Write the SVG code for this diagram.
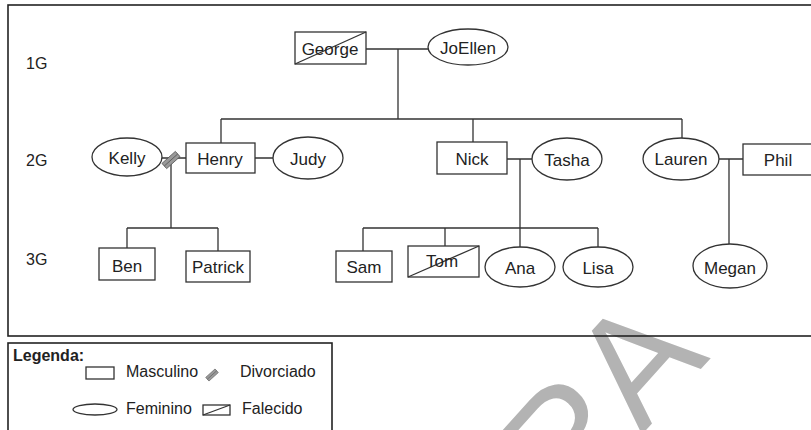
<svg xmlns="http://www.w3.org/2000/svg" width="811" height="430" viewBox="0 0 811 430">
<style>
  .frame{fill:none;stroke:#222;stroke-width:1.6}
  .shape{fill:#fff;stroke:#333;stroke-width:1.3}
  .line{fill:none;stroke:#333;stroke-width:1.3}
  text{font-family:"Liberation Sans",Arial,sans-serif;fill:#222}
  .lbl{font-size:17px;text-anchor:middle}
  .gen{font-size:16px}
  .leg{font-size:16px}
  .wm{font-size:155px;fill:#b3b3b3;text-anchor:end}
</style>
<defs>
  <g id="div">
    <rect x="-9" y="-3.5" width="18" height="7" fill="#9a9a9a" stroke="#555" stroke-width="0.8"/>
    <line x1="-9" y1="0" x2="9" y2="0" stroke="#555" stroke-width="0.8"/>
  </g>
</defs>
<rect width="811" height="430" fill="#fff"/>
<text class="wm" x="711" y="358" transform="rotate(-48 711 358)">RA</text>
<rect class="frame" x="8" y="5" width="820" height="331"/>
<rect class="frame" x="8" y="343" width="324" height="100"/>
<text class="gen" x="26" y="69">1G</text>
<text class="gen" x="26" y="166">2G</text>
<text class="gen" x="26" y="265">3G</text>
<g id="connectors">
  <path class="line" d="M366,49 H428 M398,49 V119 M221,119 H682 M221,119 V143 M473,119 V142 M682,119 V138"/>
  <path class="line" d="M162,158 H186 M255,158 H273 M171,158 V228 M127,228 H218 M127,228 V248 M218,228 V251"/>
  <path class="line" d="M507,159 H532 M520,159 V247 M363,228 H598 M363,228 V251 M445,228 V246 M598,228 V247"/>
  <path class="line" d="M719,159 H743 M729,159 V244"/>
  <use href="#div" transform="translate(171,160) rotate(-42)"/>
</g>
<g id="george"><rect class="shape" x="295" y="32" width="71" height="32"/><line class="line" x1="295" y1="64" x2="366" y2="32"/><text class="lbl" x="330" y="55">George</text></g>
<g id="joellen"><ellipse class="shape" cx="468" cy="47" rx="40" ry="18"/><text class="lbl" x="468" y="54">JoEllen</text></g>
<g id="kelly"><ellipse class="shape" cx="127" cy="157" rx="35" ry="19"/><text class="lbl" x="127" y="164">Kelly</text></g>
<g id="henry"><rect class="shape" x="186" y="143" width="69" height="30"/><text class="lbl" x="220" y="165">Henry</text></g>
<g id="judy"><ellipse class="shape" cx="308" cy="158" rx="35" ry="21"/><text class="lbl" x="308" y="165">Judy</text></g>
<g id="nick"><rect class="shape" x="437" y="142" width="70" height="32"/><text class="lbl" x="472" y="165">Nick</text></g>
<g id="tasha"><ellipse class="shape" cx="567" cy="159" rx="35" ry="21"/><text class="lbl" x="567" y="166">Tasha</text></g>
<g id="lauren"><ellipse class="shape" cx="681" cy="159" rx="38" ry="21"/><text class="lbl" x="681" y="165">Lauren</text></g>
<g id="phil"><rect class="shape" x="743" y="144" width="80" height="31"/><text class="lbl" x="778" y="166">Phil</text></g>
<g id="ben"><rect class="shape" x="99" y="248" width="56" height="32"/><text class="lbl" x="127" y="272">Ben</text></g>
<g id="patrick"><rect class="shape" x="186" y="251" width="64" height="31"/><text class="lbl" x="218" y="273">Patrick</text></g>
<g id="sam"><rect class="shape" x="336" y="251" width="56" height="31"/><text class="lbl" x="364" y="273">Sam</text></g>
<g id="tom"><rect class="shape" x="408" y="246" width="71" height="31"/><line class="line" x1="408" y1="277" x2="479" y2="246"/><text class="lbl" x="442" y="267">Tom</text></g>
<g id="ana"><ellipse class="shape" cx="520" cy="267" rx="35" ry="20"/><text class="lbl" x="520" y="274">Ana</text></g>
<g id="lisa"><ellipse class="shape" cx="598" cy="267" rx="35" ry="20"/><text class="lbl" x="598" y="274">Lisa</text></g>
<g id="megan"><ellipse class="shape" cx="730" cy="266" rx="37" ry="22"/><text class="lbl" x="730" y="274">Megan</text></g>
<g id="legend">
  <text class="leg" x="13" y="361" font-weight="bold">Legenda:</text>
  <rect class="shape" x="86" y="367" width="28" height="12"/>
  <text class="leg" x="126" y="377">Masculino</text>
  <use href="#div" transform="translate(212,375) scale(0.7) rotate(-42)"/>
  <text class="leg" x="240" y="377">Divorciado</text>
  <ellipse class="shape" cx="95" cy="409.5" rx="22" ry="5.5"/>
  <text class="leg" x="126" y="414">Feminino</text>
  <rect class="shape" x="203" y="405" width="27" height="10"/>
  <line class="line" x1="203" y1="415" x2="230" y2="405"/>
  <text class="leg" x="242" y="414">Falecido</text>
</g>
</svg>
